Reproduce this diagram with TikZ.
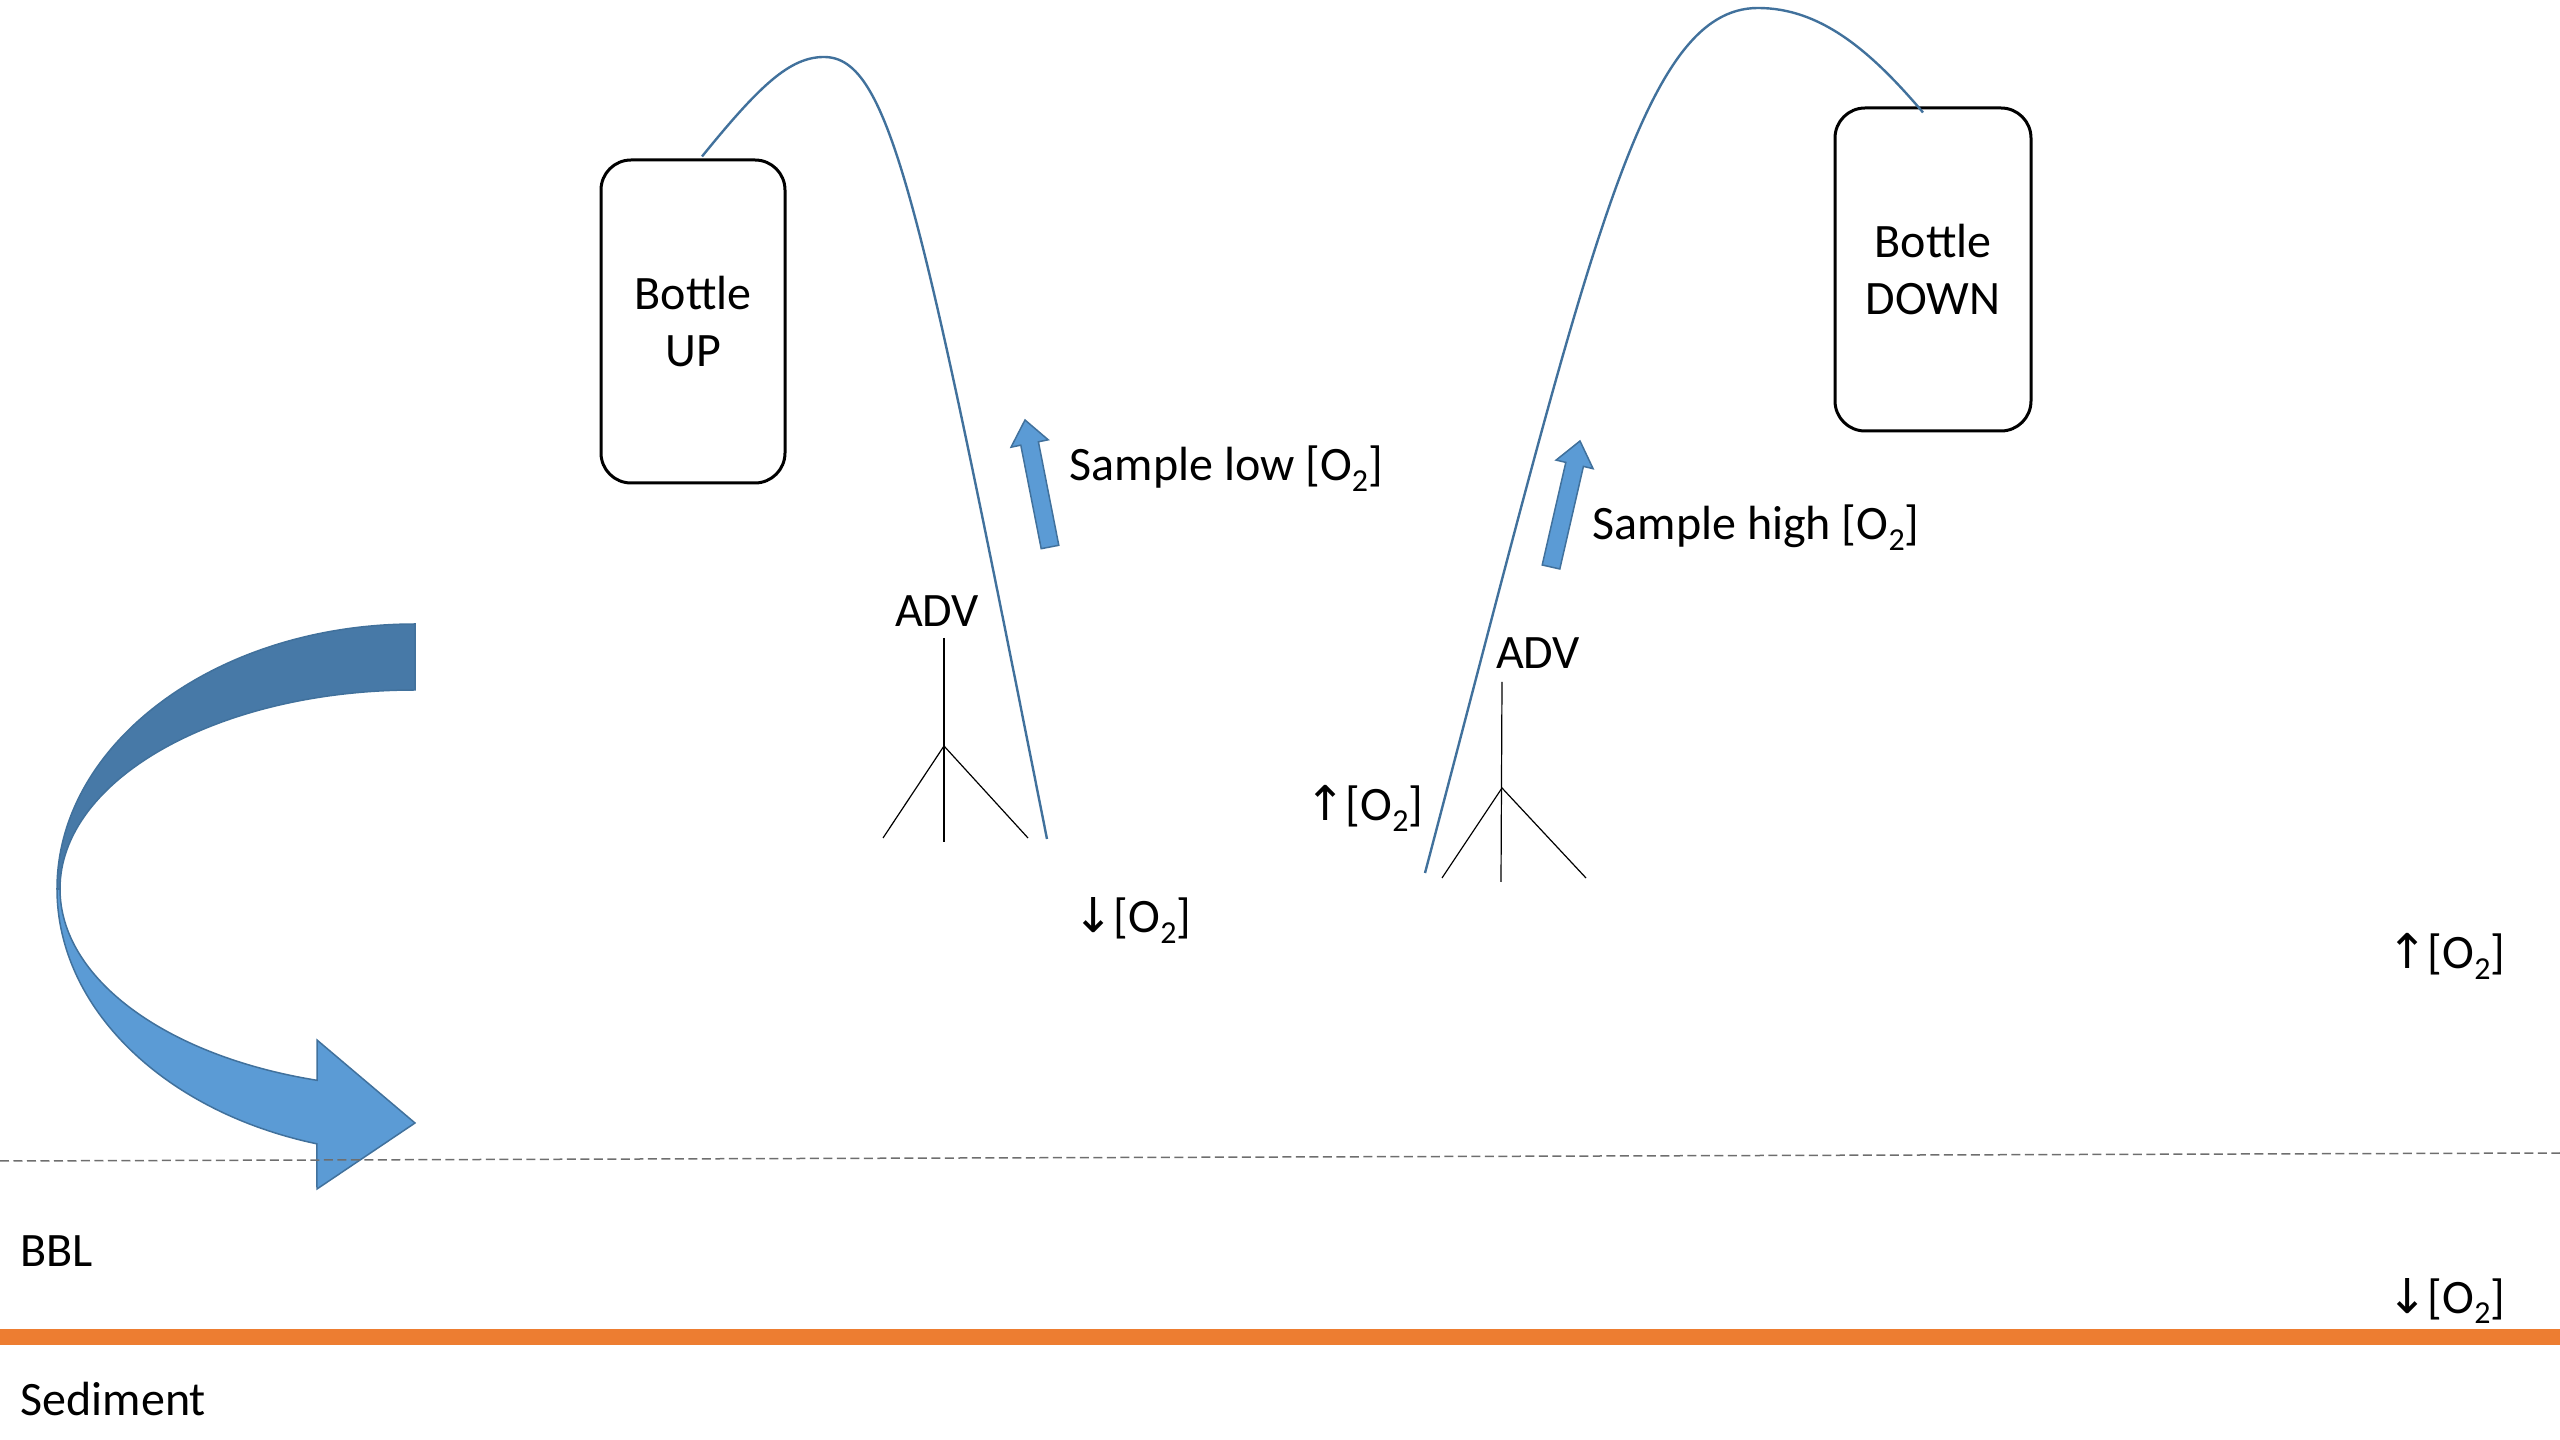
\documentclass[tikz,border=0pt]{standalone}
\usepackage{fontspec}
\setmainfont{Carlito}
\newfontfamily\arrowfont{DejaVu Sans}
\definecolor{cablecol}{RGB}{65,113,156}
\definecolor{lblue}{RGB}{91,155,213}
\definecolor{dblue}{RGB}{71,121,167}
\definecolor{eblue}{RGB}{65,113,156}
\definecolor{sedcol}{RGB}{237,125,49}
\definecolor{dashcol}{RGB}{110,110,110}
\newcommand\Otwo{[O\raisebox{-3.1pt}{\fontsize{9.1pt}{10pt}\selectfont 2}]}
\newcommand\upO{{\arrowfont ↑}\Otwo}
\newcommand\downO{{\arrowfont ↓}\Otwo}
\tikzset{
  lbl/.style={inner sep=0pt, font=\fontsize{13.66pt}{16.2pt}\selectfont},
  bottle/.style={draw=black, line width=0.3mm, rounded corners=3mm, align=center, lbl, minimum width=18.4mm, minimum height=32.3mm},
  cable/.style={draw=cablecol, line width=0.24mm},
  leg/.style={draw=black, line width=0.12mm},
  blockarrow/.style={fill=lblue, draw=eblue, line width=0.15mm, line join=miter},
  ribbondark/.style={fill=dblue, draw=eblue, line width=0.15mm},
  ribbonlight/.style={fill=lblue, draw=eblue, line width=0.15mm},
}
\begin{document}
\begin{tikzpicture}[x=0.1mm,y=-0.1mm]
\useasboundingbox (0,0) rectangle (2560,1440);

% curved arrow (back and front parts)
\path[ribbondark] (415,624) arc[start angle=270,end angle=180,x radius=358,y radius=265]
  -- (60,889) arc[start angle=180,end angle=270,x radius=355,y radius=199] -- cycle;
\path[ribbonlight] (57,889) arc[start angle=180,end angle=105.9,x radius=358,y radius=265]
  -- (317,1189) -- (415,1123) -- (317,1040) -- (317,1080.3)
  arc[start angle=106.03,end angle=180,x radius=355,y radius=199] -- cycle;

% boundary lines
\draw[dashcol, line width=0.15mm, dash pattern=on 0.9mm off 0.45mm] (0,1161) -- (2560,1153);
\draw[sedcol, line width=1.6mm] (0,1337) -- (2560,1337);

% bottles
\node[bottle] (bup) at (693,321.5) {Bottle\\UP};
\node[bottle, minimum width=19.6mm] (bdown) at (1933,269.5) {Bottle\\DOWN};

% ADV tripods
\node[lbl, anchor=base] (adv1) at (937,627) {ADV};
\coordinate (t1top) at (944,638);
\coordinate (t1j) at (944,746);
\coordinate (t1l) at (883,838);
\coordinate (t1c) at (944,842);
\coordinate (t1r) at (1028,838);
\draw[leg] (t1top) -- (t1c);
\draw[leg] (t1l) -- (t1j) -- (t1r);

\node[lbl, anchor=base] (adv2) at (1538,669) {ADV};
\coordinate (t2top) at (1502,682);
\coordinate (t2j) at (1502,788);
\coordinate (t2l) at (1442,878);
\coordinate (t2c) at (1501,882);
\coordinate (t2r) at (1586,878);
\draw[leg] (t2top) -- (t2c);
\draw[leg] (t2l) -- (t2j) -- (t2r);

% cables
\coordinate (c1s) at ([xshift=0.9mm,yshift=0.2mm]bup.north);
\coordinate (c1p) at (824,57);
\coordinate (c1e) at (1047,839);
\draw[cable] (c1s) .. controls (760,85) and (790,57) .. (c1p)
  .. controls (890,57) and (920,200) .. (c1e);

\coordinate (c2s) at (1425,873);
\coordinate (c2p) at (1758,8);
\coordinate (c2e) at ([xshift=-1mm,yshift=-0.6mm]bdown.north);
\draw[cable] (c2s) .. controls (1588,255) and (1640,8) .. (c2p)
  .. controls (1820,8) and (1870,50) .. (c2e);

% sample arrows
\path[blockarrow] (1058.8,545.3) -- (1038.4,441.8) -- (1048.2,439.8) -- (1025,420)
  -- (1011.0,447.2) -- (1020.8,445.2) -- (1041.2,548.7) -- cycle;
\path[blockarrow] (1559.8,569) -- (1583.4,466.4) -- (1593.1,468.7) -- (1580,441)
  -- (1556.1,460.1) -- (1565.8,462.4) -- (1542.2,565) -- cycle;

% labels
\node[lbl, anchor=base west] (slow) at (1069,481) {Sample low \Otwo};
\node[lbl, anchor=base west] (shigh) at (1592,540) {Sample high \Otwo};
\node[lbl, anchor=base west] (dmid) at (1073,933) {\downO};
\node[lbl, anchor=base west] (umid) at (1305,821) {\upO};
\node[lbl, anchor=base west] (uright) at (2387,969) {\upO};
\node[lbl, anchor=base west] (dright) at (2387,1313) {\downO};
\node[lbl, anchor=base west] (bbl) at (20,1266) {BBL};
\node[lbl, anchor=base west] (sed) at (20,1415) {Sediment};
\end{tikzpicture}
\end{document}
